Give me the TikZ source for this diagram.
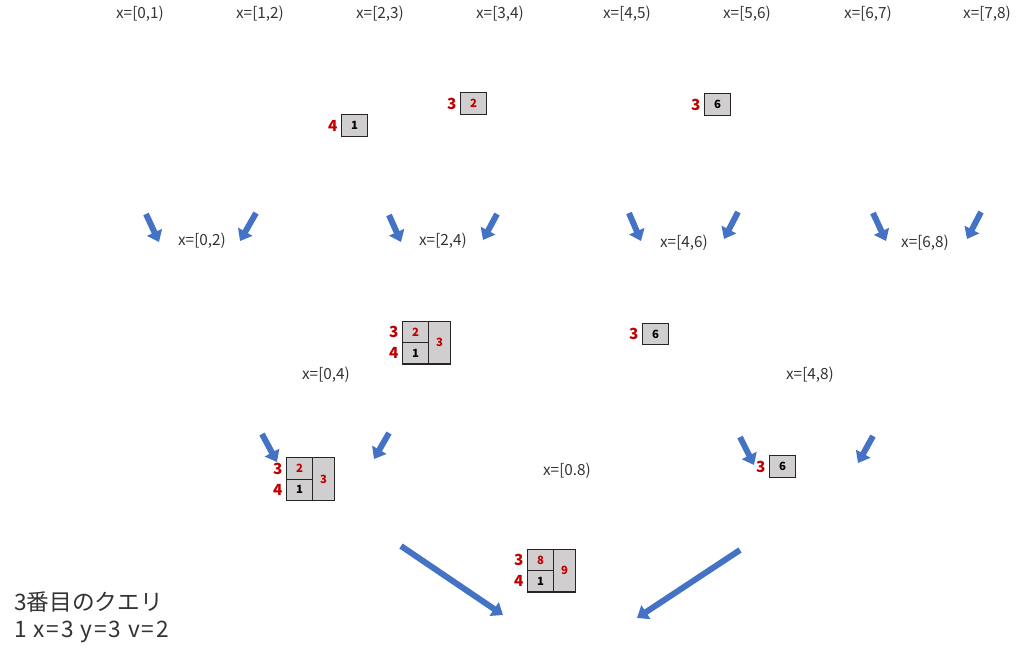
\documentclass[tikz,border=0pt]{standalone}
\usepackage{fontspec}
\setmainfont{Noto Sans CJK JP}
\usetikzlibrary{arrows.meta,positioning}
\definecolor{arrowblue}{HTML}{4472C4}
\definecolor{cellgray}{HTML}{D0CECE}
\definecolor{idxred}{HTML}{C00000}
\tikzset{
  cell/.style={draw=black!85, line width=0.8pt, fill=cellgray,
    minimum width=20pt, minimum height=16pt, inner sep=0pt, outer sep=0pt,
    font=\fontsize{8.5}{9}\selectfont\bfseries},
  tallcell/.style={cell, minimum width=16pt, minimum height=32pt},
  hot/.style={text=idxred},
  idx/.style={text=idxred, inner sep=1pt, font=\fontsize{11.5}{12}\selectfont\bfseries},
  span/.style={text=black!80, inner sep=1pt, font=\fontsize{11.5}{13}\selectfont},
  note/.style={text=black!80, align=left, inner sep=0pt, font=\fontsize{17}{20.5}\selectfont},
  flow/.style={draw=arrowblue, line width=4.5pt,
    -{Triangle[width=12pt,length=8pt]}}
}

\begin{document}
\begin{tikzpicture}[x=0.75pt,y=-0.75pt]
  \useasboundingbox (0,0) rectangle (1024,662);

  % ranges on each level
  \foreach \px/\lbl [count=\k] in {140/{[0,1)},260/{[1,2)},380/{[2,3)},500/{[3,4)},
      627/{[4,5)},747/{[5,6)},868/{[6,7)},987/{[7,8)}}
    \node[span] (r0\k) at (\px,14) {x=\lbl};
  \node[span] (r11) at (202,241) {x=[0,2)};
  \node[span] (r12) at (443,241) {x=[2,4)};
  \node[span] (r13) at (684,243) {x=[4,6)};
  \node[span] (r14) at (925,243) {x=[6,8)};
  \node[span] (r21) at (326,375) {x=[0,4)};
  \node[span] (r22) at (810,375) {x=[4,8)};
  \node[span] (r31) at (567,471) {x=[0.8)};

  % leaves
  \node[cell] (c1) at (354.5,125.5) {1};
  \node[idx, left=1.5pt of c1] (y1) {4};
  \node[cell, hot] (c2) at (473.5,103.5) {2};
  \node[idx, left=1.5pt of c2] (y2) {3};
  \node[cell] (c6) at (717.5,104.5) {6};
  \node[idx, left=1.5pt of c6] (y6) {3};

  % level 2
  \node[cell, hot] (m2a) at (415.5,332) {2};
  \node[cell] (m1a) [below=0pt of m2a] {1};
  \node[tallcell, hot, anchor=north west] (m3a) at (m2a.north east) {3};
  \node[idx, left=1.5pt of m2a] (ya3) {3};
  \node[idx, left=1.5pt of m1a] (ya4) {4};
  \node[cell] (m6a) at (655.5,334) {6};
  \node[idx, left=1.5pt of m6a] (ya6) {3};

  % level 3
  \node[cell, hot] (m2b) at (299.5,468.5) {2};
  \node[cell] (m1b) [below=0pt of m2b] {1};
  \node[tallcell, hot, anchor=north west] (m3b) at (m2b.north east) {3};
  \node[idx, left=1.5pt of m2b] (yb3) {3};
  \node[idx, left=1.5pt of m1b] (yb4) {4};
  \node[cell] (m6b) at (782.5,466.5) {6};
  \node[idx, left=1.5pt of m6b] (yb6) {3};

  % root
  \node[cell, hot] (m8c) at (540.5,560) {8};
  \node[cell] (m1c) [below=0pt of m8c] {1};
  \node[tallcell, hot, anchor=north west] (m9c) at (m8c.north east) {9};
  \node[idx, left=1.5pt of m8c] (yc3) {3};
  \node[idx, left=1.5pt of m1c] (yc4) {4};

  % merge arrows
  \foreach \sx/\sy/\ex/\ey [count=\k] in {146/214/159/242, 256/213/240/241,
      389/215/401/242, 497/214/483/240, 629/213/641/241, 738/212/724/239,
      873/213/886/241, 981/212/967/239, 262/434/277/462, 389/433/374/459,
      740/437/754/465, 873/436/858/463, 401/546/503/615, 740/550/637/618} {
    \coordinate (s\k) at (\sx,\sy);
    \coordinate (e\k) at (\ex,\ey);
    \draw[flow] (s\k) -- (e\k);
  }

  \node[note, anchor=north west] (query) at (14,591)
    {3番目のクエリ\\{\addfontfeature{LetterSpace=8}1 x=3 y=3 v=2}};
\end{tikzpicture}
\end{document}
